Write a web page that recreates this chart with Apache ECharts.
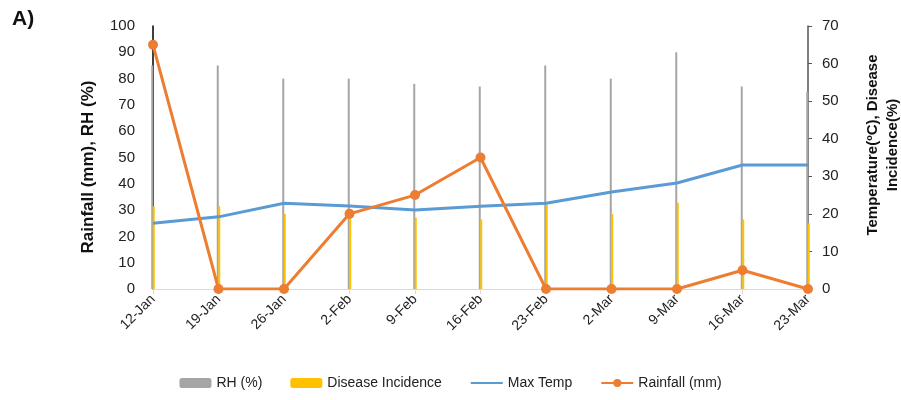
<!DOCTYPE html>
<html>
<head>
<meta charset="utf-8">
<script src="https://cdn.jsdelivr.net/npm/echarts@6/dist/echarts.min.js"></script>
<style>
  html, body { margin: 0; padding: 0; background: #fff; }
  #chart { width: 901px; height: 400px; }
</style>
</head>
<body>
<div id="chart"></div>
<script>
  // weekly observations
  var weeks = ['12-Jan', '19-Jan', '26-Jan', '2-Feb', '9-Feb', '16-Feb', '23-Feb', '2-Mar', '9-Mar', '16-Mar', '23-Mar'];
  var rh = [85, 85, 80, 80, 78, 77, 85, 80, 90, 77, 75];
  var disease = [22, 22, 20, 21, 19, 18.5, 22.5, 20, 23, 18.5, 17.5];
  var maxTemp = [17.5, 19.2, 22.8, 22.1, 21, 22, 22.8, 25.8, 28.2, 33, 33];
  var rainfall = [65, 0, 0, 20, 25, 35, 0, 0, 0, 5, 0];

  var font = 'Liberation Sans, Arial, sans-serif';

  var option = {
    animation: false,
    grid: { left: 153, right: 93, top: 26, bottom: 111 },
    legend: {
      bottom: 5,
      left: 'center',
      itemWidth: 32,
      itemHeight: 10,
      itemGap: 28,
      textStyle: { fontFamily: 'Liberation Sans Narrow, Arial, sans-serif', fontSize: 14, color: '#222' },
      data: [
        'RH (%)',
        'Disease Incidence',
        { name: 'Max Temp', itemStyle: { opacity: 0 } },
        'Rainfall (mm)'
      ]
    },
    xAxis: {
      type: 'category',
      data: weeks,
      boundaryGap: false,
      axisLine: { lineStyle: { color: '#d9d9d9', width: 1 } },
      axisTick: { show: true, length: 5, lineStyle: { color: '#d9d9d9' } },
      axisLabel: { rotate: 45, fontFamily: font, fontSize: 14, color: '#222', margin: 8 }
    },
    yAxis: [
      {
        type: 'value', min: 0, max: 100, interval: 10,
        splitLine: { show: false },
        axisLine: { show: true, lineStyle: { color: '#000', width: 1.5 } },
        axisTick: { show: false },
        axisLabel: { fontFamily: font, fontSize: 15, color: '#222', margin: 18 }
      },
      {
        type: 'value', min: 0, max: 70, interval: 10,
        splitLine: { show: false },
        axisLine: { show: true, lineStyle: { color: '#555', width: 1.5 } },
        axisTick: { show: true, length: 4, lineStyle: { color: '#555' } },
        axisLabel: { fontFamily: font, fontSize: 15, color: '#222', margin: 14 }
      }
    ],
    graphic: [
      { type: 'text', left: 12, top: 9, style: { text: 'A)', font: 'bold 21px ' + font, fill: '#111' } },
      {
        type: 'text', x: 88, y: 167, rotation: Math.PI / 2,
        style: { text: 'Rainfall (mm), RH (%)', font: 'bold 17px ' + font, fill: '#111', align: 'center', verticalAlign: 'middle' }
      },
      {
        type: 'text', x: 883, y: 145, rotation: Math.PI / 2,
        style: { text: 'Temperature(ºC), Disease\nIncidence(%)', font: 'bold 15px ' + font, fill: '#111', align: 'center', verticalAlign: 'middle', lineHeight: 20 }
      }
    ],
    series: [
      {
        name: 'RH (%)', type: 'bar', yAxisIndex: 0, data: rh,
        barWidth: 2, barGap: '-25%',
        itemStyle: { color: '#A5A5A5' }
      },
      {
        name: 'Disease Incidence', type: 'bar', yAxisIndex: 1, data: disease,
        barWidth: 2,
        itemStyle: { color: '#FFC000' }
      },
      {
        name: 'Max Temp', type: 'line', yAxisIndex: 1, data: maxTemp,
        symbol: 'none', lineStyle: { color: '#5B9BD5', width: 3 },
        itemStyle: { color: '#5B9BD5' }
      },
      {
        name: 'Rainfall (mm)', type: 'line', yAxisIndex: 1, data: rainfall,
        symbol: 'circle', symbolSize: 10,
        lineStyle: { color: '#ED7D31', width: 3 },
        itemStyle: { color: '#ED7D31' }
      }
    ]
  };

  echarts.init(document.getElementById('chart')).setOption(option);
</script>
</body>
</html>
